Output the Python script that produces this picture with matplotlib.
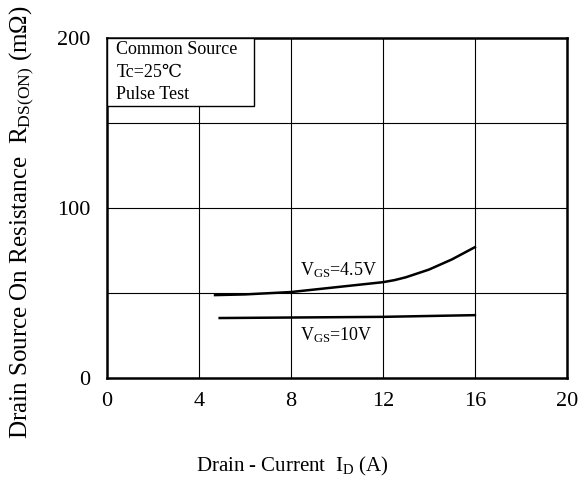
import numpy as np
import matplotlib
matplotlib.use('Agg')
import matplotlib.pyplot as plt
from matplotlib.patches import Rectangle

plt.rcParams['font.family'] = ['Liberation Serif', 'DejaVu Serif', 'Noto Sans CJK SC']
plt.rcParams['mathtext.fontset'] = 'custom'
plt.rcParams['mathtext.rm'] = 'Liberation Serif'
plt.rcParams['mathtext.it'] = 'Liberation Serif'

# VGS = 4.5 V curve
id_45 = [4.7, 6, 8, 10, 12, 12.5, 13, 14, 15, 16]
r_45 = [48.8, 49.2, 50.6, 53.5, 56.4, 57.6, 59.3, 63.8, 69.8, 77]

# VGS = 10 V curve
id_10 = [4.9, 8, 12, 16]
r_10 = [35.3, 35.6, 36.0, 37.0]

x_ticks = [0, 4, 8, 12, 16, 20]
y_ticks = [0, 100, 200]
x_grid = [4, 8, 12, 16]
y_grid = [50, 100, 150]

fig = plt.figure(figsize=(5.88, 4.84), dpi=100)
ax = fig.add_axes([0.182, 0.219, 0.782, 0.702])

for xg in x_grid:
    ax.axvline(xg, color='black', lw=0.8, zorder=1)
for yg in y_grid:
    ax.axhline(yg, color='black', lw=0.8, zorder=1)

ax.plot(id_45, r_45, color='black', lw=1.8, zorder=3)
ax.plot(id_10, r_10, color='black', lw=1.8, zorder=3)

ax.set_xlim(0, 20)
ax.set_ylim(0, 200)
ax.set_xticks(x_ticks)
ax.set_yticks(y_ticks)
ax.tick_params(which='both', length=0, labelsize=16)
ax.tick_params(axis='y', pad=12)
ax.tick_params(axis='x', pad=10)
for s in ax.spines.values():
    s.set_linewidth(1.8)

ax.text(8.4, 63.5, r'V$_{\rm GS}$=4.5V', fontsize=13, va='center', zorder=4)
ax.text(8.4, 25.5, r'V$_{\rm GS}$=10V', fontsize=13, va='center', zorder=4)

# info box in the upper-left corner
ax.add_patch(Rectangle((0, 0.8), 0.32, 0.2, transform=ax.transAxes,
                       fc='white', ec='black', lw=1.0, zorder=5))
for i, line in enumerate(['Common Source', 'Tc=25\u2103', 'Pulse Test']):
    ax.text(0.02, 0.967 - i * 0.067, line, transform=ax.transAxes, fontsize=13,
            va='center', ha='left', zorder=6)

fig.text(292 / 588, 1 - 466 / 484, r'Drain - Current  I$_{\rm D}$ (A)',
         fontsize=15, ha='center', va='center')
fig.text(22 / 588, 1 - 222 / 484,
         r'Drain Source On Resistance  R$_{\rm DS(ON)}$ (m$\Omega$)',
         fontsize=18, ha='center', va='center', rotation=90)

fig.savefig('out.png', dpi=100)
